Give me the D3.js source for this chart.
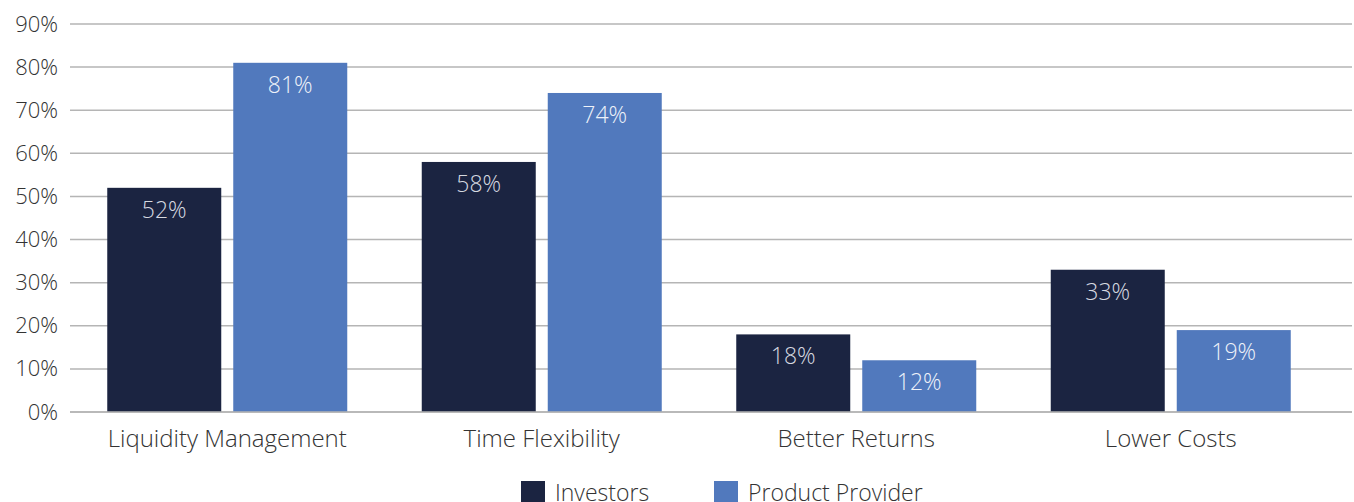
<!DOCTYPE html>
<html>
<head>
<meta charset="utf-8">
<script src="https://cdn.jsdelivr.net/npm/d3@7"></script>
<style>
  html, body { margin: 0; padding: 0; background: #fff; }
  svg { display: block; font-family: "Open Sans", "Noto Sans", sans-serif; }
</style>
</head>
<body>
<svg id="chart" width="1354" height="502"></svg>
<script>
// Survey results: reasons cited, by respondent group
const categories = ["Liquidity Management", "Time Flexibility", "Better Returns", "Lower Costs"];
const seriesNames = ["Investors", "Product Provider"];
const investors = [52, 58, 18, 33];
const productProvider = [81, 74, 12, 19];
const yTicks = [0, 10, 20, 30, 40, 50, 60, 70, 80, 90];

const colors = { "Investors": "#1b2441", "Product Provider": "#5179bd" };
const labelColors = { "Investors": "#d6d9e0", "Product Provider": "#eef2f9" };

const rows = categories.map((c, i) => ({
  category: c,
  values: [
    { series: "Investors", value: investors[i] },
    { series: "Product Provider", value: productProvider[i] }
  ]
}));

const svg = d3.select("#chart");
const plot = { left: 70, right: 1328, gridRight: 1352, top: 24, bottom: 412 };

const x = d3.scaleBand().domain(categories).range([plot.left, plot.right]).paddingInner(0).paddingOuter(0);
const y = d3.scaleLinear().domain([0, 90]).range([plot.bottom, plot.top]);
const barWidth = 114, barGap = 12;
const xs = d3.scaleOrdinal().domain(seriesNames)
  .range([-(barWidth + barGap / 2), barGap / 2]);

// gridlines
svg.append("g").selectAll("line").data(yTicks).join("line")
  .attr("x1", plot.left).attr("x2", plot.gridRight)
  .attr("y1", d => y(d)).attr("y2", d => y(d))
  .attr("stroke", "#b5b5b5").attr("stroke-width", 1.5);

// y axis labels
const yAxis = d3.axisLeft(y).tickValues(yTicks).tickFormat(d => d + "%").tickSize(0).tickPadding(0);
const ya = svg.append("g").attr("transform", `translate(58,0)`).call(yAxis);
ya.select(".domain").remove();
ya.selectAll("text").attr("font-size", 22).attr("fill", "#333").attr("font-weight", 300)
  .attr("font-family", "'Open Sans', sans-serif");

// bars
const groups = svg.append("g").selectAll("g").data(rows).join("g")
  .attr("transform", d => `translate(${x(d.category) + x.bandwidth() / 2},0)`);

groups.selectAll("rect").data(d => d.values).join("rect")
  .attr("x", d => xs(d.series))
  .attr("width", barWidth)
  .attr("y", d => y(d.value))
  .attr("height", d => y(0) - y(d.value))
  .attr("fill", d => colors[d.series]);

groups.selectAll("text.val").data(d => d.values).join("text")
  .attr("class", "val")
  .attr("x", d => xs(d.series) + barWidth / 2)
  .attr("y", d => y(d.value) + 30)
  .attr("text-anchor", "middle")
  .attr("font-size", 23).attr("font-weight", 300)
  .attr("fill", d => labelColors[d.series])
  .text(d => d.value + "%");

// baseline
svg.append("line").attr("x1", plot.left).attr("x2", plot.gridRight)
  .attr("y1", y(0)).attr("y2", y(0)).attr("stroke", "#b5b5b5").attr("stroke-width", 1.5);

// category axis
const xAxis = d3.axisBottom(x).tickSize(0).tickPadding(0);
const xa = svg.append("g").attr("transform", `translate(0,${plot.bottom + 35})`).call(xAxis);
xa.select(".domain").remove();
xa.selectAll("text").attr("font-size", 24).attr("fill", "#333").attr("font-weight", 300)
  .attr("dy", 0).attr("font-family", "'Open Sans', sans-serif");

// legend
const legendX = [521, 714];
const legend = svg.append("g").selectAll("g").data(seriesNames).join("g")
  .attr("transform", (d, i) => `translate(${legendX[i]},481)`);
legend.append("rect").attr("width", 24).attr("height", 24).attr("fill", d => colors[d]);
legend.append("text").attr("x", 34).attr("y", 20)
  .attr("font-size", 23).attr("font-weight", 300).attr("fill", "#333")
  .text(d => d);
</script>
</body>
</html>
